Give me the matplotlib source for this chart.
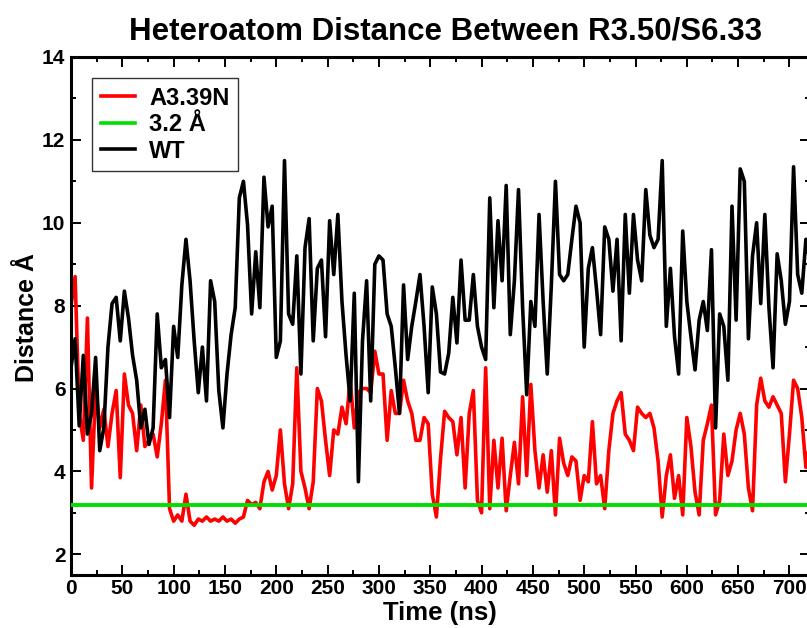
import numpy as np
import matplotlib
matplotlib.use("Agg")
import matplotlib.pyplot as plt
from matplotlib.ticker import MultipleLocator

plt.rcParams['font.family'] = ['Liberation Sans', 'DejaVu Sans']

# time axis (ns), sampled every 4 ns
time_ns = np.arange(0, 721, 4)

# A3.39N mutant distance (Å)
a339n = [
    8.0, 8.7, 5.4, 4.75, 7.7, 3.6, 6.0, 5.05, 5.5, 4.6, 5.4, 5.95, 3.85, 6.35, 5.6, 5.4,
    4.5, 5.6, 4.6, 4.75, 4.9, 4.35, 5.15, 6.2, 3.1, 2.8, 2.95, 2.8, 3.45, 2.8, 2.7,
    2.85, 2.8, 2.9, 2.8, 2.85, 2.8, 2.9, 2.8, 2.85, 2.75, 2.85, 2.9, 3.3, 3.2, 3.25,
    3.1, 3.75, 4.0, 3.55, 3.9, 5.0, 3.7, 3.1, 3.7, 6.5, 4.0, 3.6, 3.1, 3.75, 6.0,
    5.7, 4.75, 3.9, 5.0, 4.9, 5.55, 5.15, 6.2, 5.05, 5.9, 6.0, 6.0, 5.9, 6.9, 6.35,
    6.35, 4.75, 5.95, 5.4, 5.4, 6.2, 5.7, 5.4, 4.75, 4.75, 5.3, 5.15, 3.45, 2.9, 4.3,
    5.45, 5.3, 5.2, 4.4, 5.3, 3.6, 5.4, 5.95, 3.3, 3.0, 6.5, 3.1, 4.75, 3.6, 4.8,
    3.05, 3.9, 4.7, 3.7, 5.8, 3.9, 6.1, 4.5, 3.6, 4.4, 3.5, 4.5, 2.95, 4.8, 4.2,
    3.9, 4.35, 4.25, 3.3, 3.9, 3.75, 5.2, 3.7, 3.9, 3.1, 4.5, 5.4, 5.7, 5.9, 4.9,
    4.75, 4.5, 5.55, 5.4, 5.3, 5.4, 5.05, 4.25, 2.9, 3.9, 4.4, 3.35, 3.9, 2.95, 5.3,
    4.6, 3.5, 2.95, 4.75, 5.15, 5.6, 2.95, 3.3, 4.9, 3.9, 4.25, 5.0, 5.4, 4.9, 3.6,
    3.05, 5.6, 6.25, 5.7, 5.55, 5.8, 5.6, 5.4, 3.75, 4.9, 6.2, 6.0, 5.3, 4.1, 4.75,
]

# wild type distance (Å)
wt = [
    6.5, 7.2, 5.1, 6.8, 4.9, 5.4, 6.75, 4.5, 5.05, 7.0, 8.05, 8.2, 7.15, 8.35, 7.7, 6.8,
    6.2, 5.05, 5.5, 4.65, 5.05, 7.8, 6.5, 6.7, 5.3, 7.5, 6.75, 8.5, 9.6, 8.6, 7.15,
    5.9, 7.0, 5.7, 8.6, 8.1, 5.95, 5.05, 6.35, 7.3, 7.95, 10.6, 11.0, 9.95, 7.8, 9.3,
    7.95, 11.1, 9.9, 10.4, 6.75, 7.15, 11.5, 7.8, 7.55, 9.2, 6.35, 9.4, 10.1, 7.15, 8.9,
    9.1, 7.25, 10.05, 8.75, 10.2, 8.1, 6.8, 5.7, 8.3, 3.75, 7.15, 8.6, 5.7, 9.0, 9.2,
    9.1, 7.8, 7.5, 6.5, 5.4, 8.5, 6.7, 7.5, 8.1, 8.75, 7.5, 5.9, 8.45, 7.8, 6.4,
    6.35, 6.85, 8.2, 7.1, 9.1, 7.65, 7.65, 8.75, 7.5, 7.0, 6.7, 10.6, 7.95, 10.05, 8.6,
    10.9, 7.3, 8.6, 10.8, 7.95, 5.85, 8.1, 7.5, 10.2, 8.1, 6.35, 8.5, 11.0, 8.75, 8.6,
    8.75, 9.6, 10.4, 10.0, 7.0, 8.9, 9.4, 8.4, 7.3, 9.9, 9.6, 8.35, 9.6, 7.15, 10.2,
    8.3, 10.2, 9.1, 8.6, 10.8, 9.7, 9.4, 9.6, 11.5, 7.5, 8.9, 7.25, 6.35, 9.8, 8.1,
    7.25, 6.45, 7.65, 8.1, 7.4, 9.35, 5.05, 7.8, 7.5, 6.2, 10.4, 7.65, 11.3, 11.0, 7.2,
    9.2, 10.0, 8.05, 10.2, 7.95, 6.5, 9.25, 8.6, 7.55, 8.1, 11.35, 8.75, 8.3, 9.6, 9.0,
]

threshold = 3.2
labels = ["A3.39N", "3.2 Å", "WT"]

fig = plt.figure(figsize=(8.07, 6.28), dpi=100)
ax = fig.add_axes([71/807, 1-575/628, (810-71)/807, (575-57)/628])

ax.plot(time_ns, a339n, color='#ff0000', lw=2.6, label=labels[0], zorder=2)
ax.axhline(threshold, color='#00e000', lw=2.8, label=labels[1], zorder=3)
ax.plot(time_ns, wt, color='black', lw=2.6, label=labels[2], zorder=4)

ax.set_xlim(0, 720)
ax.set_ylim(1.5, 14)
ax.xaxis.set_major_locator(MultipleLocator(50))
ax.xaxis.set_minor_locator(MultipleLocator(25))
ax.yaxis.set_major_locator(MultipleLocator(2))
ax.yaxis.set_minor_locator(MultipleLocator(1))
ax.tick_params(which='both', direction='in', top=True, right=True, width=1.4)
ax.tick_params(which='major', length=7, labelsize=15)
ax.tick_params(axis='x', which='major', pad=3)
ax.tick_params(axis='y', which='major', pad=4)
ax.tick_params(which='minor', length=3.5)
for lab in ax.get_xticklabels() + ax.get_yticklabels():
    lab.set_fontweight('bold')
for sp in ax.spines.values():
    sp.set_linewidth(2.2)

ax.set_xlabel("Time (ns)", fontsize=18.5, fontweight='bold')
ax.set_ylabel("Distance Å", fontsize=18, fontweight='bold')
ax.xaxis.set_label_coords((440-71)/(810-71), -(613-575)/(575-57))
ax.yaxis.set_label_coords(-(71-27)/(810-71), (575-318)/(575-57))
ax.xaxis.label.set_va('center')
ax.yaxis.label.set_va('center')

fig.text(445/807, 1-31/628, "Heteroatom Distance Between R3.50/S6.33",
         ha='center', va='center', fontsize=22.5, fontweight='bold')

leg = ax.legend(loc='upper left', prop={'weight': 'bold', 'size': 17},
                handlelength=1.45, handletextpad=0.6, borderpad=0.35,
                labelspacing=0.15, borderaxespad=0.9, fancybox=False,
                framealpha=1)
leg.get_frame().set_edgecolor('#333333')
leg.get_frame().set_linewidth(1.0)
for h in leg.get_lines():
    h.set_linewidth(2.6)

fig.savefig("out.png", dpi=100)
